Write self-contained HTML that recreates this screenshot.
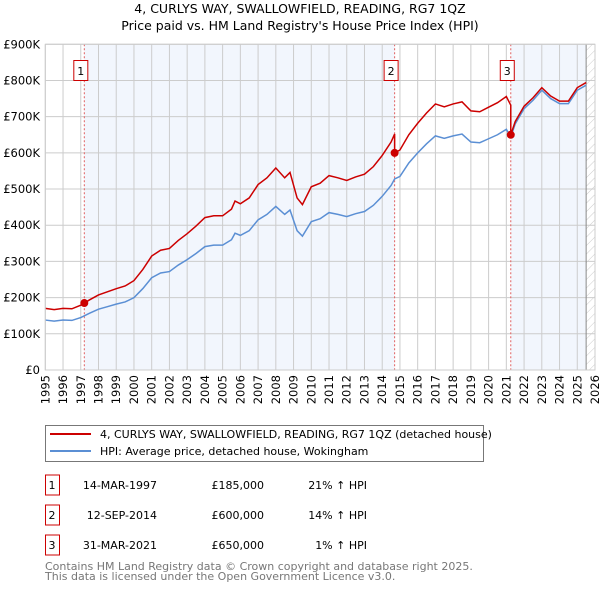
<!DOCTYPE html>
<html><head><meta charset="utf-8"><style>
body{margin:0;background:#fff;font-family:"DejaVu Sans","Liberation Sans",sans-serif;}
svg text{font-family:"DejaVu Sans","Liberation Sans",sans-serif;}
</style></head><body>
<svg id="chart" width="600" height="590" viewBox="0 0 600 590" xmlns="http://www.w3.org/2000/svg">
<defs><pattern id="hatch" patternUnits="userSpaceOnUse" width="6" height="6" patternTransform="rotate(45)"><line x1="0" y1="0" x2="0" y2="6" stroke="#ccc" stroke-width="1"/></pattern></defs>
<text x="300" y="13" text-anchor="middle" font-size="12.5">4, CURLYS WAY, SWALLOWFIELD, READING, RG7 1QZ</text>
<text x="300" y="30" text-anchor="middle" font-size="12.5">Price paid vs. HM Land Registry's House Price Index (HPI)</text>
<g id="plot"></g>
<g>
<rect x="45.5" y="425.5" width="438" height="36" fill="#fff" stroke="#777"/>
<line x1="50" y1="434" x2="91" y2="434" stroke="#cc0000" stroke-width="2"/>
<text x="100" y="438" font-size="11">4, CURLYS WAY, SWALLOWFIELD, READING, RG7 1QZ (detached house)</text>
<line x1="50" y1="451" x2="91" y2="451" stroke="#5b8fd4" stroke-width="2"/>
<text x="100" y="455" font-size="11">HPI: Average price, detached house, Wokingham</text>
</g>
<g id="table"></g>
<text x="45" y="570" font-size="11" fill="#777">Contains HM Land Registry data © Crown copyright and database right 2025.</text>
<text x="45" y="580" font-size="11" fill="#777">This data is licensed under the Open Government Licence v3.0.</text>
</svg>
<script>
const hpiYears=[1995,1995.5,1996,1996.5,1997,1997.5,1998,1998.5,1999,1999.5,2000,2000.5,2001,2001.5,2002,2002.5,2003,2003.5,2004,2004.5,2005,2005.5,2005.7,2006,2006.5,2007,2007.5,2008,2008.5,2008.8,2009.2,2009.5,2010,2010.5,2011,2011.5,2012,2012.5,2013,2013.5,2014,2014.5,2014.7,2015,2015.5,2016,2016.5,2017,2017.5,2018,2018.5,2019,2019.5,2020,2020.5,2021,2021.25,2021.5,2022,2022.5,2023,2023.5,2024,2024.5,2025,2025.5];
const hpiValues=[138,135,138,137,145,157,168,175,182,188,200,225,255,268,272,290,305,322,341,345,345,360,378,372,385,415,430,452,430,442,385,370,410,418,435,430,424,432,438,455,480,510,528,535,572,600,625,647,640,647,652,630,628,639,650,665,644,680,722,745,773,750,736,736,773,787];
const saleLabels=["1","2","3"];
const saleDates=["14-MAR-1997","12-SEP-2014","31-MAR-2021"];
const saleYears=[1997.2,2014.7,2021.25];
const salePrices=[185000,600000,650000];
const saleDiffs=["21% \u2191 HPI","14% \u2191 HPI","1% \u2191 HPI"];
const yTicks=[0,100000,200000,300000,400000,500000,600000,700000,800000,900000];
const yTickLabels=["£0","£100K","£200K","£300K","£400K","£500K","£600K","£700K","£800K","£900K"];

const X0=45.3,X1=595,Y0=370,Y1=44.3,YMIN=1995,YMAX=2026,VMAX=900000;
const xs=t=>X0+(t-YMIN)/(YMAX-YMIN)*(X1-X0);
const ys=v=>Y0-v/VMAX*(Y0-Y1);
const NS="http://www.w3.org/2000/svg";
const plot=document.getElementById('plot');
function mk(tag,attrs,parent){const e=document.createElementNS(NS,tag);for(const k in attrs)e.setAttribute(k,attrs[k]);(parent||plot).appendChild(e);return e;}
function hpiAt(t){for(let i=0;i<hpiYears.length-1;i++){if(t>=hpiYears[i]&&t<=hpiYears[i+1]){const f=(t-hpiYears[i])/(hpiYears[i+1]-hpiYears[i]);return hpiValues[i]+f*(hpiValues[i+1]-hpiValues[i]);}}return hpiValues[hpiValues.length-1];}

for(let i=0;i<saleYears.length;i++){
  const end=i+1<saleYears.length?saleYears[i+1]:2025.5;
  if(i%2===0){const r=mk('rect',{x:xs(saleYears[i]),y:Y1,width:xs(end)-xs(saleYears[i]),height:Y0-Y1,fill:'#f2f6fd'});
  
  }
}
const hz=mk('rect',{x:xs(2025.5),y:Y1,width:X1-xs(2025.5),height:Y0-Y1,fill:'url(#hatch)'});


for(let y=YMIN;y<=YMAX;y++){
  const l=mk('line',{x1:xs(y),x2:xs(y),y1:Y1,y2:Y0,stroke:'#cccccc','stroke-width':1});
  
  
  const tx=mk('text',{transform:`translate(${xs(y)+4},375) rotate(-90)`,'text-anchor':'end','font-size':11.5});
  tx.textContent=y;
  
  
}
yTicks.forEach((v,i)=>{
  const l=mk('line',{x1:X0,x2:X1,y1:ys(v),y2:ys(v),stroke:'#cccccc','stroke-width':1});
  
  
  const tx=mk('text',{x:40,y:ys(v)+4,'text-anchor':'end','font-size':11.5});
  tx.textContent=yTickLabels[i];
  
  
});
const ax=mk('line',{x1:xs(2025.5),x2:xs(2025.5),y1:Y1,y2:Y0,stroke:'#888','stroke-width':1});


saleYears.forEach((t,i)=>{
  const l=mk('line',{x1:xs(t),x2:xs(t),y1:Y1,y2:Y0,stroke:'#e06060','stroke-width':1,'stroke-dasharray':'2,2'});
  
  
  const b=mk('rect',{x:xs(t)-10.5,y:60.5,width:14,height:20,fill:'#fff',stroke:'#cc0000'});
  
  
  const tx=mk('text',{x:xs(t)-3.5,y:75,'text-anchor':'middle','font-size':11});
  tx.textContent=saleLabels[i];
  
  
});
const hp=mk('polyline',{points:hpiYears.map((t,i)=>xs(t)+','+ys(hpiValues[i]*1000)).join(' '),fill:'none',stroke:'#5b8fd4','stroke-width':1.5});


function factorAt(t){let k=0;for(let i=0;i<saleYears.length;i++)if(t>=saleYears[i])k=i;return salePrices[k]/(hpiAt(saleYears[k])*1000);}
const pts=[];
const allT=hpiYears.concat(saleYears).sort((a,b)=>a-b);
allT.forEach(t=>{
  saleYears.forEach((s,i)=>{if(t===s&&i>0){pts.push(xs(t)+','+ys(hpiAt(t)*1000*salePrices[i-1]/(hpiAt(saleYears[i-1])*1000)));}});
  pts.push(xs(t)+','+ys(hpiAt(t)*1000*factorAt(t)));
});
const pl=mk('polyline',{points:pts.join(' '),fill:'none',stroke:'#cc0000','stroke-width':1.5});


saleYears.forEach((t,i)=>{
  const c=mk('circle',{cx:xs(t),cy:ys(salePrices[i]),r:4,fill:'#cc0000'});
  
  
});
mk('rect',{x:X0,y:Y1,width:X1-X0,height:Y0-Y1,fill:'none',stroke:'#ccc'});
const tb=document.getElementById('table');
saleLabels.forEach((lab,i)=>{
  const y=485+i*30;
  const b=mk('rect',{x:45.5,y:y-10,width:14,height:20,fill:'#fff',stroke:'#cc0000'},tb);
  
  
  const cells=[[52,lab,'middle'],[157,saleDates[i],'end'],[264,'£'+salePrices[i].toLocaleString('en-GB'),'end'],[367,saleDiffs[i],'end']];
  cells.forEach(c=>{const tx=mk('text',{x:c[0],y:y+4,'text-anchor':c[2],'font-size':11},tb);tx.textContent=c[1];
  
  });
});
</script>
</body></html>
